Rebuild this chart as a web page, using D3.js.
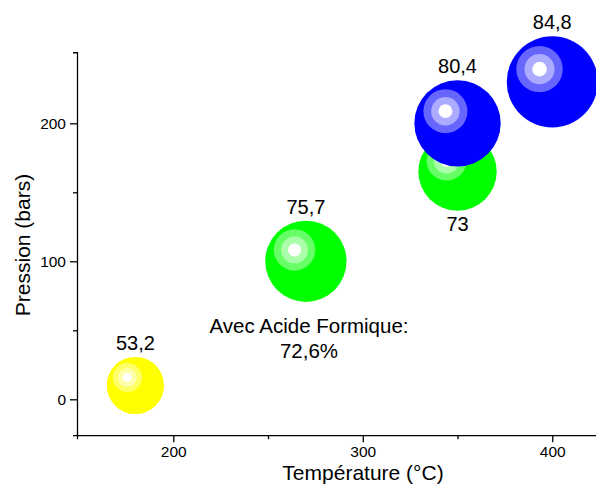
<!DOCTYPE html>
<html>
<head>
<meta charset="utf-8">
<script src="https://cdn.jsdelivr.net/npm/d3@7"></script>
<style>
html,body{margin:0;padding:0;background:#fff;}
svg{display:block;font-family:"Liberation Sans",Arial,sans-serif;}
</style>
</head>
<body>
<svg id="chart" width="596" height="486"></svg>
<script>
const temperatures = [180, 270, 350, 350, 400];
const pressures = [10, 100, 165, 200, 230];
const yields = [53.2, 75.7, 73, 80.4, 84.8];
const yieldLabels = ["53,2", "75,7", "73", "80,4", "84,8"];
const labelPos = ["top", "top", "bottom", "top", "top"];
const colors = ["#ffff00", "#00ff00", "#00ff00", "#0000ff", "#0000ff"];
const xTicks = [200, 300, 400];
const xMinor = [250, 350];
const yTicks = [0, 100, 200];
const yMinor = [50, 150];
const xTitle = "Température (°C)";
const yTitle = "Pression (bars)";
const noteLines = ["Avec Acide Formique:", "72,6%"];

const svg = d3.select("#chart");
const x = d3.scaleLinear().domain([149.2, 425]).range([77, 77 + 275.8 * 1.895]);
const y = d3.scaleLinear().domain([-26, 251.5]).range([399.3 + 26 * 1.38, 399.3 - 251.5 * 1.38]);
const r = d3.scaleLinear().domain([0, 100]).range([0, 53.7]);

// axes
svg.append("g").attr("transform", `translate(0,${y(-26)})`)
  .call(d3.axisBottom(x).tickValues(xTicks).tickFormat(d3.format("d")).tickSize(7).tickSizeOuter(4).tickPadding(4));
svg.append("g").attr("transform", `translate(0,${y(-26)})`)
  .call(d3.axisBottom(x).tickValues(xMinor).tickFormat("").tickSize(4).tickSizeOuter(0))
  .select(".domain").remove();
svg.append("g").attr("transform", `translate(${x(149.2)},0)`)
  .call(d3.axisLeft(y).tickValues(yTicks).tickFormat(d3.format("d")).tickSize(7).tickSizeOuter(4).tickPadding(4));
svg.append("g").attr("transform", `translate(${x(149.2)},0)`)
  .call(d3.axisLeft(y).tickValues(yMinor).tickFormat("").tickSize(4).tickSizeOuter(0))
  .select(".domain").remove();
svg.selectAll(".domain, .tick line").attr("stroke", "#000").attr("stroke-width", 1.3);
svg.selectAll(".tick text").attr("font-size", 15.5).attr("fill", "#000")
  .attr("font-family", "'Liberation Sans', Arial, sans-serif");

// titles
svg.append("text").attr("x", 363).attr("y", 480).attr("text-anchor", "middle")
  .attr("font-size", 21).text(xTitle);
svg.append("text").attr("transform", `translate(30,245) rotate(-90)`).attr("text-anchor", "middle")
  .attr("font-size", 21).text(yTitle);

// bubbles
const data = temperatures.map((t, i) => ({t, p: pressures[i], v: yields[i], lab: yieldLabels[i], pos: labelPos[i], c: colors[i]}));
const g = svg.selectAll("g.bubble").data(data).join("g").attr("class", "bubble")
  .attr("transform", d => `translate(${x(d.t)},${y(d.p)})`);
g.append("circle").attr("r", d => r(d.v)).attr("fill", d => d.c);
const rings = [[0.51, 0.4], [0.33, 0.67], [0.16, 1]];
rings.forEach(([f, w]) => {
  g.append("circle")
    .attr("cx", d => -0.28 * r(d.v)).attr("cy", d => -0.28 * r(d.v))
    .attr("r", d => f * r(d.v))
    .attr("fill", d => d3.interpolateRgb(d.c, "#fff")(w));
});
g.append("text").attr("text-anchor", "middle").attr("font-size", 20)
  .attr("y", d => d.pos === "top" ? -r(d.v) - 7 : r(d.v) + 20)
  .text(d => d.lab);

// note
svg.append("text").attr("x", 309).attr("y", 333).attr("text-anchor", "middle").attr("font-size", 20.5).text(noteLines[0]);
svg.append("text").attr("x", 309).attr("y", 358).attr("text-anchor", "middle").attr("font-size", 20.5).text(noteLines[1]);
</script>
</body>
</html>
